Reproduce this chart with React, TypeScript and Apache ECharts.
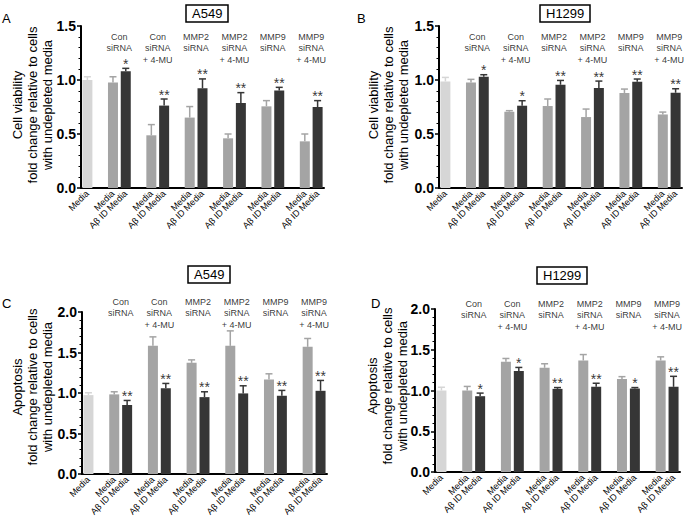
import React, { useEffect, useRef } from 'react';
import * as echarts from 'echarts';

const FONT = 'Liberation Sans, Arial, Helvetica, sans-serif';

const groupLabels = ['Con\nsiRNA', 'Con\nsiRNA\n+ 4-MU', 'MMP2\nsiRNA', 'MMP2\nsiRNA\n+ 4-MU', 'MMP9\nsiRNA', 'MMP9\nsiRNA\n+ 4-MU'];
const mediaLabel = 'Media';
const depletedLabel = 'Aβ ID Media';

// Panel A: A549 cell viability
const aMedia = [1.0, 1.03]; // mean, upper error
const aCtrl = [0.976, 0.488, 0.652, 0.46, 0.756, 0.432];
const aCtrlTop = [1.03, 0.587, 0.754, 0.5, 0.809, 0.5];
const aId = [1.08, 0.763, 0.923, 0.787, 0.902, 0.75];
const aIdTop = [1.108, 0.824, 1.01, 0.883, 0.932, 0.809];
const aStars = ['*', '**', '**', '**', '**', '**'];

// Panel B: H1299 cell viability
const bMedia = [0.987, 1.024];
const bCtrl = [0.978, 0.706, 0.759, 0.657, 0.88, 0.681];
const bCtrlTop = [1.006, 0.716, 0.824, 0.731, 0.916, 0.703];
const bId = [1.03, 0.762, 0.956, 0.926, 0.984, 0.882];
const bIdTop = [1.049, 0.808, 0.996, 0.99, 1.009, 0.919];
const bStars = ['*', '*', '**', '**', '**', '**'];

// Panel C: A549 apoptosis
const cMedia = [0.974, 1.003];
const cCtrl = [0.983, 1.582, 1.372, 1.582, 1.168, 1.57];
const cCtrlTop = [1.015, 1.693, 1.409, 1.767, 1.237, 1.673];
const cId = [0.851, 1.06, 0.949, 0.995, 0.966, 1.027];
const cIdTop = [0.908, 1.118, 1.015, 1.089, 1.032, 1.155];
const cStars = ['**', '**', '**', '**', '**', '**'];

// Panel D: H1299 apoptosis
const dMedia = [1.0, 1.04];
const dCtrl = [1.0, 1.352, 1.279, 1.368, 1.142, 1.368];
const dCtrlTop = [1.05, 1.393, 1.328, 1.441, 1.17, 1.413];
const dId = [0.93, 1.239, 1.02, 1.045, 1.024, 1.045];
const dIdTop = [0.968, 1.283, 1.036, 1.089, 1.036, 1.174];
const dStars = ['*', '*', '**', '**', '*', '**'];

const LIGHT = '#d6d6d6';
const GRAY = '#a4a4a4';
const DARK = '#363636';

// slot layout: Media, gap, then pairs separated by gaps
const categories: string[] = [mediaLabel, ''];
groupLabels.forEach((_, g) => {
  categories.push(mediaLabel, depletedLabel);
  if (g < groupLabels.length - 1) categories.push('');
});

type Panel = {
  media: number[]; ctrl: number[]; ctrlTop: number[]; id: number[]; idTop: number[]; stars: string[];
  grid: { left: number; top: number; width: number; height: number };
  yMax: number; title: string; titlePos: [number, number]; letter: string; letterPos: [number, number];
  yName: string; yNamePos: [number, number]; groupDy: number;
};

const panels: Panel[] = [
  { media: aMedia, ctrl: aCtrl, ctrlTop: aCtrlTop, id: aId, idTop: aIdTop, stars: aStars,
    grid: { left: 81, top: 26, width: 243, height: 162 }, yMax: 1.5, title: 'A549', titlePos: [186, 5],
    letter: 'A', letterPos: [2, 12], yName: 'Cell viability\nfold change relative to cells\nwith undepleted media', yNamePos: [32, 105], groupDy: 5 },
  { media: bMedia, ctrl: bCtrl, ctrlTop: bCtrlTop, id: bId, idTop: bIdTop, stars: bStars,
    grid: { left: 439, top: 26, width: 243, height: 162 }, yMax: 1.5, title: 'H1299', titlePos: [540, 5],
    letter: 'B', letterPos: [357, 12], yName: 'Cell viability\nfold change relative to cells\nwith undepleted media', yNamePos: [388, 105], groupDy: 5 },
  { media: cMedia, ctrl: cCtrl, ctrlTop: cCtrlTop, id: cId, idTop: cIdTop, stars: cStars,
    grid: { left: 82, top: 312, width: 245, height: 162 }, yMax: 2.0, title: 'A549', titlePos: [188, 266],
    letter: 'C', letterPos: [2, 297], yName: 'Apoptosis\nfold change relative to cells\nwith undepleted media', yNamePos: [32, 387], groupDy: -16 },
  { media: dMedia, ctrl: dCtrl, ctrlTop: dCtrlTop, id: dId, idTop: dIdTop, stars: dStars,
    grid: { left: 435, top: 309, width: 245, height: 163 }, yMax: 2.0, title: 'H1299', titlePos: [537, 267],
    letter: 'D', letterPos: [371, 297], yName: 'Apoptosis\nfold change relative to cells\nwith undepleted media', yNamePos: [387, 386], groupDy: -11 },
];

function buildOption() {
  const grid: any[] = [];
  const xAxis: any[] = [];
  const yAxis: any[] = [];
  const series: any[] = [];
  const title: any[] = [];
  const graphic: any[] = [];

  panels.forEach((p, i) => {
    grid.push({ ...p.grid });
    xAxis.push({
      type: 'category', gridIndex: i, data: categories,
      axisLine: { lineStyle: { color: '#000', width: 2 } },
      axisTick: { alignWithLabel: true, length: 4, lineStyle: { color: '#000', width: 1.5 }, interval: (_: number, v: string) => v !== '' },
      axisLabel: { interval: (_: number, v: string) => v !== '', rotate: 45, fontSize: 9, color: '#000', margin: 4, fontFamily: FONT },
    });
    xAxis.push({ type: 'value', gridIndex: i, min: 0, max: categories.length, show: false });
    yAxis.push({
      type: 'value', gridIndex: i, min: 0, max: p.yMax, interval: 0.5,
      axisLine: { show: true, lineStyle: { color: '#000', width: 2 } },
      axisTick: { show: true, length: 4, lineStyle: { color: '#000', width: 1.5 } },
      minorTick: { show: true, splitNumber: 5, length: 2.5, lineStyle: { color: '#000', width: 1 } },
      splitLine: { show: false },
      axisLabel: { formatter: (v: number) => v.toFixed(1), fontWeight: 'bold', fontSize: 14, color: '#000', margin: 5, fontFamily: FONT },
    });

    const barData: any[] = categories.map(() => '-');
    const errData: any[] = [];
    const starData: any[] = [];
    const groupData: any[] = [];
    barData[0] = { value: p.media[0], itemStyle: { color: LIGHT } };
    errData.push({ value: [0, p.media[0], p.media[1]], itemStyle: { color: LIGHT } });
    groupLabels.forEach((name, g) => {
      const gi = 2 + 3 * g;
      const di = gi + 1;
      barData[gi] = { value: p.ctrl[g], itemStyle: { color: GRAY } };
      barData[di] = { value: p.id[g], itemStyle: { color: DARK } };
      errData.push({ value: [gi, p.ctrl[g], p.ctrlTop[g]], itemStyle: { color: GRAY } });
      errData.push({ value: [di, p.id[g], p.idTop[g]], itemStyle: { color: DARK } });
      starData.push({ value: [di, p.idTop[g]], name: p.stars[g] });
      groupData.push({ value: [di, p.yMax], name });
    });

    series.push({
      type: 'bar', xAxisIndex: 2 * i, yAxisIndex: i, barWidth: 10, data: barData, silent: true,
    });
    series.push({
      type: 'custom', xAxisIndex: 2 * i, yAxisIndex: i, data: errData, silent: true,
      renderItem: (_params: any, api: any) => {
        const x = api.value(0);
        const p0 = api.coord([x, api.value(1)]);
        const p1 = api.coord([x, api.value(2)]);
        const color = api.visual('color');
        const st = { stroke: color, lineWidth: 1.5 };
        return {
          type: 'group',
          children: [
            { type: 'line', shape: { x1: p0[0], y1: p0[1], x2: p1[0], y2: p1[1] }, style: st },
            { type: 'line', shape: { x1: p1[0] - 3.5, y1: p1[1], x2: p1[0] + 3.5, y2: p1[1] }, style: st },
          ],
        };
      },
    });
    series.push({
      type: 'scatter', xAxisIndex: 2 * i, yAxisIndex: i, data: starData, symbolSize: 1, silent: true,
      itemStyle: { color: 'rgba(0,0,0,0)' },
      label: { show: true, position: 'top', distance: -3, formatter: (d: any) => d.name, fontSize: 14, color: '#000', fontFamily: FONT },
    });
    series.push({
      type: 'scatter', xAxisIndex: 2 * i + 1, yAxisIndex: i, data: groupData, symbolSize: 1, silent: true,
      itemStyle: { color: 'rgba(0,0,0,0)' },
      label: {
        show: true, position: 'inside', align: 'center', verticalAlign: 'top', offset: [0, p.groupDy],
        formatter: (d: any) => d.name, fontSize: 9, lineHeight: 11.5, color: '#000', fontFamily: FONT,
      },
    });

    title.push({
      text: p.title, left: p.titlePos[0], top: p.titlePos[1], borderColor: '#000', borderWidth: 1.5, padding: [2, 6],
      textStyle: { fontSize: 13, fontWeight: 'normal', color: '#000', fontFamily: FONT },
    });
    graphic.push({
      type: 'text', x: p.letterPos[0], y: p.letterPos[1],
      style: { text: p.letter, fontSize: 13, fill: '#000', fontFamily: FONT, verticalAlign: 'top' },
    });
    graphic.push({
      type: 'text', x: p.yNamePos[0], y: p.yNamePos[1], rotation: Math.PI / 2,
      style: { text: p.yName, fontSize: 13, lineHeight: 15, fill: '#000', fontFamily: FONT, align: 'center', verticalAlign: 'middle' },
    });
  });

  return {
    animation: false,
    backgroundColor: '#fff',
    textStyle: { fontFamily: FONT },
    title, grid, xAxis, yAxis, series, graphic,
  };
}

export default function App() {
  const ref = useRef<HTMLDivElement>(null);
  useEffect(() => {
    if (!ref.current) return;
    const chart = echarts.init(ref.current, undefined, { renderer: 'svg' });
    chart.setOption(buildOption() as any);
    return () => chart.dispose();
  }, []);
  return <div ref={ref} style={{ position: 'absolute', left: 0, top: 0, width: 685, height: 522 }} />;
}
